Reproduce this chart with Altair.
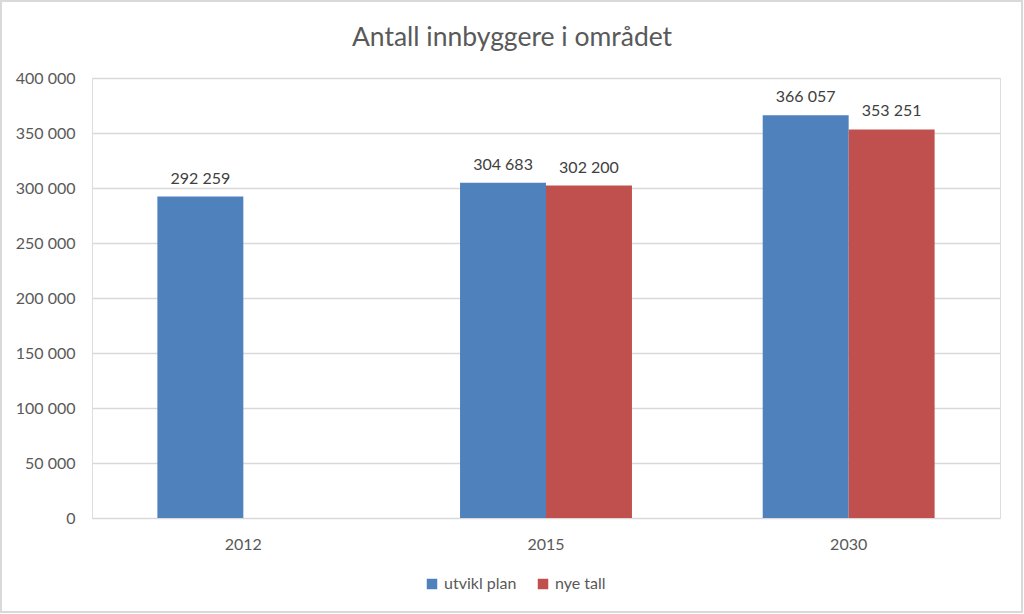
import altair as alt
import pandas as pd

years = ["2012", "2015", "2015", "2030", "2030"]
series = ["utvikl plan", "utvikl plan", "nye tall", "utvikl plan", "nye tall"]
values = [292259, 304683, 302200, 366057, 353251]
series_order = ["utvikl plan", "nye tall"]
colors = ["#4F81BD", "#C0504D"]
y_ticks = [0, 50000, 100000, 150000, 200000, 250000, 300000, 350000, 400000]
title_text = ["Antall innbyggere i området"]

df = pd.DataFrame({"year": years, "series": series, "value": values})
df["label"] = [f"{v:,}".replace(",", " ") for v in values]

FONT = "Lato"
GREY = "#595959"
W, H = 908, 440
LEFT, TOP = 92, 78

x_enc = alt.X("year:N", title=None,
              scale=alt.Scale(paddingInner=0.432, paddingOuter=0.216),
              axis=alt.Axis(labelAngle=0, ticks=False, domainColor="#D9D9D9",
                            labelFontSize=16, labelColor=GREY, labelFont=FONT,
                            labelPadding=18, grid=False))
xo_enc = alt.XOffset("series:N", scale=alt.Scale(domain=series_order, paddingInner=0, paddingOuter=0))
y_enc = alt.Y("value:Q", title=None,
              scale=alt.Scale(domain=[0, 400000], nice=False),
              axis=alt.Axis(values=y_ticks, domain=False, ticks=False,
                            labelExpr="replace(format(datum.value, ','), ',', ' ')",
                            labelFontSize=16, labelColor=GREY, labelFont=FONT,
                            labelPadding=17, gridColor="#D9D9D9", gridWidth=1.5))

base = alt.Chart(df)

bars = base.mark_bar().encode(
    x=x_enc, xOffset=xo_enc, y=y_enc,
    color=alt.Color("series:N", scale=alt.Scale(domain=series_order, range=colors),
                    legend=alt.Legend(title=None, orient="none", direction="horizontal",
                                      legendX=332, legendY=498, symbolType="square",
                                      symbolSize=110, labelFontSize=16, labelColor=GREY,
                                      labelFont=FONT, columnPadding=18, symbolStrokeWidth=0)),
)

labels = base.mark_text(baseline="bottom", dy=-10, fontSize=16, color="#404040", font=FONT).encode(
    x=alt.X("year:N"), xOffset=alt.XOffset("series:N"), y=alt.Y("value:Q"), text="label:N"
)

title = alt.Chart(pd.DataFrame({"t": title_text})).mark_text(
    fontSize=26.5, font=FONT, color=GREY, baseline="alphabetic", align="center"
).encode(x=alt.value(512 - LEFT), y=alt.value(46 - TOP), text="t:N")

border = alt.Chart(pd.DataFrame({"a": [0]})).mark_rect(fill=None, stroke="#D9D9D9", strokeWidth=2).encode(
    x=alt.value(-LEFT + 1), x2=alt.value(1022 - LEFT), y=alt.value(-TOP + 1), y2=alt.value(612 - TOP)
)

chart = alt.layer(bars, labels, title, border).properties(
    width=W, height=H,
    autosize=alt.AutoSizeParams(type="none"),
    padding={"left": LEFT, "top": TOP, "right": 1024 - LEFT - W, "bottom": 614 - TOP - H},
).configure_view(stroke=None).configure(background="white")

chart.save("out.html", embed_options={"renderer": "svg", "actions": False})
